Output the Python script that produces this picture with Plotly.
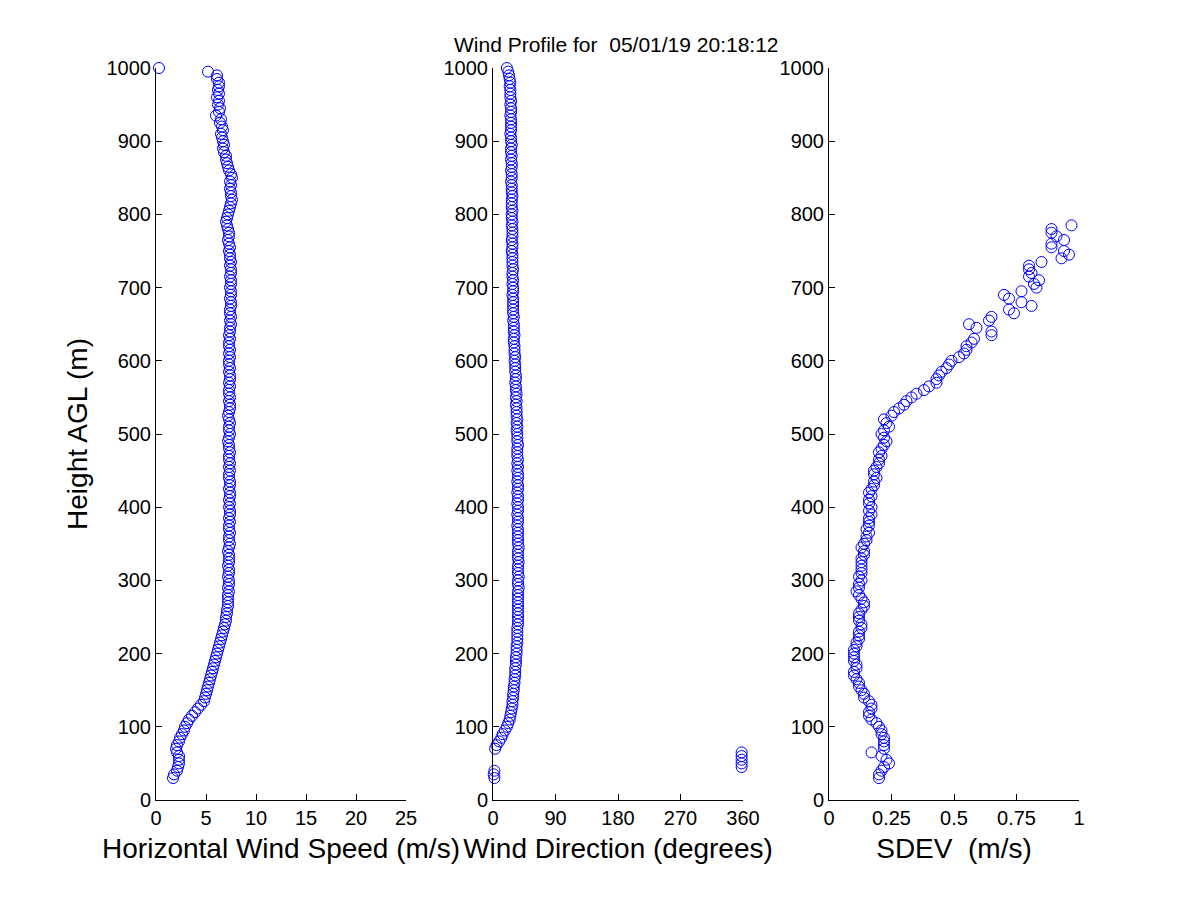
import plotly.graph_objects as go

# heights AGL (m), 5 m gates from 30 to 1000
heights = list(range(30, 1001, 5))

# horizontal wind speed (m/s), one value per gate
speed = [
    1.7, 1.8, 2.1, 2.2, 2.3, 2.3, 2.3, 2.1, 2.0, 2.1,
    2.3, 2.4, 2.6, 2.8, 2.9, 3.1, 3.3, 3.6, 3.9, 4.2,
    4.5, 4.8, 4.9, 5.0, 5.1, 5.2, 5.3, 5.4, 5.5, 5.6,
    5.7, 5.8, 5.9, 6.0, 6.1, 6.2, 6.3, 6.4, 6.5, 6.6,
    6.7, 6.8, 6.9, 7.0, 7.0, 7.1, 7.1, 7.2, 7.2, 7.2,
    7.2, 7.3, 7.2, 7.3, 7.3, 7.2, 7.3, 7.3, 7.2, 7.3,
    7.3, 7.3, 7.2, 7.3, 7.4, 7.3, 7.3, 7.4, 7.3, 7.3,
    7.4, 7.3, 7.4, 7.4, 7.3, 7.4, 7.3, 7.4, 7.4, 7.3,
    7.4, 7.4, 7.3, 7.3, 7.4, 7.3, 7.4, 7.3, 7.3, 7.4,
    7.3, 7.3, 7.2, 7.3, 7.4, 7.3, 7.3, 7.4, 7.3, 7.2,
    7.3, 7.4, 7.4, 7.3, 7.4, 7.3, 7.3, 7.4, 7.3, 7.4,
    7.4, 7.3, 7.4, 7.3, 7.3, 7.4, 7.3, 7.4, 7.3, 7.3,
    7.4, 7.3, 7.4, 7.4, 7.5, 7.4, 7.5, 7.4, 7.4, 7.5,
    7.5, 7.4, 7.5, 7.5, 7.4, 7.5, 7.5, 7.4, 7.5, 7.5,
    7.4, 7.5, 7.4, 7.4, 7.3, 7.4, 7.3, 7.2, 7.3, 7.3,
    7.2, 7.1, 7.0, 7.1, 7.2, 7.3, 7.4, 7.5, 7.6, 7.5,
    7.5, 7.4, 7.5, 7.4, 7.6, 7.5, 7.3, 7.2, 7.1, 7.0,
    7.0, 6.8, 6.7, 6.8, 6.7, 6.6, 6.5, 6.7, 6.6, 6.4,
    6.5, 6.0, 6.3, 6.4, 6.2, 6.3, 6.1, 6.3, 6.2, 6.3,
    6.3, 6.1, 6.1, 5.2, 0.3,
]

# wind direction (degrees)
direction = [
    2, 1, 2, 358, 358, 358, 358, 358, 3, 5,
    9, 12, 14, 17, 20, 22, 24, 25, 26, 27,
    28, 28, 29, 29, 30, 30, 31, 31, 32, 32,
    32, 33, 33, 33, 34, 34, 34, 35, 35, 35,
    35, 35, 36, 36, 36, 36, 36, 36, 36, 36,
    36, 36, 37, 36, 36, 37, 36, 36, 36, 37,
    36, 36, 36, 37, 36, 36, 36, 36, 36, 35,
    36, 36, 35, 36, 36, 35, 36, 36, 35, 36,
    36, 35, 36, 36, 35, 36, 35, 36, 35, 35,
    35, 36, 35, 35, 35, 34, 35, 34, 35, 34,
    34, 34, 33, 34, 33, 34, 33, 33, 32, 33,
    33, 32, 32, 32, 31, 32, 31, 31, 31, 30,
    30, 31, 30, 30, 30, 29, 30, 29, 29, 29,
    29, 29, 28, 29, 29, 28, 29, 28, 28, 29,
    28, 28, 28, 28, 27, 28, 28, 27, 28, 28,
    28, 27, 28, 27, 27, 28, 27, 27, 27, 28,
    27, 27, 27, 26, 27, 27, 26, 27, 27, 26,
    27, 26, 26, 27, 26, 26, 25, 26, 26, 26,
    26, 25, 26, 26, 25, 26, 25, 25, 25, 24,
    25, 24, 23, 22, 20,
]

# standard deviation (m/s), only reported up to 785 m
sdev = [
    0.20, 0.20, 0.21, 0.22, 0.24, 0.23, 0.21, 0.17, 0.22, 0.22,
    0.22, 0.22, 0.21, 0.21, 0.20, 0.19, 0.17, 0.16, 0.16, 0.17,
    0.17, 0.16, 0.14, 0.14, 0.13, 0.12, 0.12, 0.11, 0.10, 0.10,
    0.11, 0.11, 0.10, 0.10, 0.10, 0.10, 0.11, 0.11, 0.12, 0.12,
    0.12, 0.13, 0.13, 0.12, 0.12, 0.12, 0.13, 0.14, 0.14, 0.13,
    0.12, 0.11, 0.12, 0.12, 0.13, 0.12, 0.13, 0.13, 0.13, 0.13,
    0.13, 0.14, 0.14, 0.13, 0.14, 0.15, 0.15, 0.16, 0.15, 0.16,
    0.16, 0.16, 0.17, 0.16, 0.17, 0.16, 0.16, 0.17, 0.16, 0.17,
    0.18, 0.18, 0.19, 0.18, 0.18, 0.19, 0.20, 0.20, 0.21, 0.20,
    0.21, 0.22, 0.23, 0.22, 0.21, 0.22, 0.24, 0.23, 0.22, 0.25,
    0.26, 0.28, 0.30, 0.31, 0.33, 0.35, 0.38, 0.40, 0.43, 0.43,
    0.44, 0.45, 0.47, 0.48, 0.49, 0.52, 0.54, 0.55, 0.55, 0.57,
    0.58, 0.65, 0.65, 0.59, 0.56, 0.64, 0.65, 0.74, 0.72, 0.81,
    0.77, 0.72, 0.70, 0.77, 0.83, 0.82, 0.84, 0.80, 0.81, 0.80,
    0.80, 0.85, 0.93, 0.96, 0.94, 0.89, 0.89, 0.94, 0.91, 0.89,
    0.89, 0.97,
]

title_text = "Wind Profile for  05/01/19 20:18:12"
font_family = "Liberation Sans, Arial, sans-serif"
blue = "#0000ff"

marker = dict(symbol="circle-open", size=11, color=blue, line=dict(width=1, color=blue))

fig = go.Figure()
fig.add_trace(go.Scatter(x=speed, y=heights, mode="markers", marker=marker,
                         xaxis="x", yaxis="y", cliponaxis=False, showlegend=False))
fig.add_trace(go.Scatter(x=direction, y=heights, mode="markers", marker=marker,
                         xaxis="x2", yaxis="y2", cliponaxis=False, showlegend=False))
fig.add_trace(go.Scatter(x=sdev, y=heights[:len(sdev)], mode="markers", marker=marker,
                         xaxis="x3", yaxis="y3", cliponaxis=False, showlegend=False))

# matlab style axes: left + bottom lines only, ticks pointing in
ax = dict(showline=True, linecolor="black", linewidth=1, mirror=False,
          showgrid=False, zeroline=False, ticks="inside", ticklen=6,
          tickcolor="black", tickfont=dict(size=20, color="black"),
          automargin=False)

# page has an 8px body margin, so positions below are shifted by that
W, H, pad = 1200, 900, 8
def xdom(left, right):
    return [(left - pad) / W, (right - pad) / W]

ydom = [(H - (800 - pad)) / H, (H - (68 - pad)) / H]
yax = dict(ax, range=[0, 1000], tickvals=list(range(0, 1001, 100)), domain=ydom)
title_font = dict(size=28, color="black")

fig.update_layout(
    width=W, height=H,
    margin=dict(l=0, r=0, t=0, b=0),
    paper_bgcolor="white", plot_bgcolor="white",
    font=dict(family=font_family, color="black"),
    xaxis=dict(ax, domain=xdom(156, 406), range=[0, 25],
               tickvals=[0, 5, 10, 15, 20, 25], anchor="y",
               title=dict(text="Horizontal Wind Speed (m/s)", font=title_font, standoff=10)),
    xaxis2=dict(ax, domain=xdom(493, 743), range=[0, 360],
                tickvals=[0, 90, 180, 270, 360], anchor="y2",
                title=dict(text="Wind Direction (degrees)", font=title_font, standoff=10)),
    xaxis3=dict(ax, domain=xdom(829, 1079), range=[0, 1],
                tickvals=[0, 0.25, 0.5, 0.75, 1], anchor="y3",
                title=dict(text="SDEV  (m/s)", font=title_font, standoff=10)),
    yaxis=dict(yax, anchor="x",
               title=dict(text="Height AGL (m)", font=title_font, standoff=10)),
    yaxis2=dict(yax, anchor="x2"),
    yaxis3=dict(yax, anchor="x3"),
    annotations=[dict(text=title_text, x=(617 - pad) / W, y=(H - (44 - pad)) / H,
                      xref="paper", yref="paper", xanchor="center", yanchor="middle",
                      showarrow=False, font=dict(size=21, color="black"))],
)

fig.write_html("out.html")
